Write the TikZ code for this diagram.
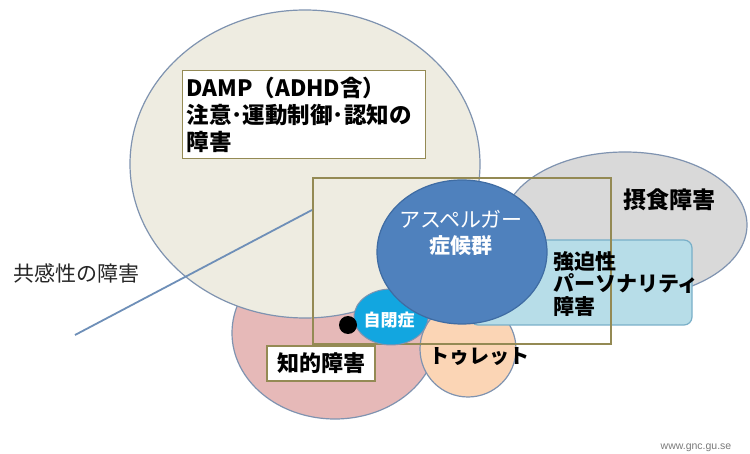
\documentclass[tikz,border=0pt]{standalone}
\usepackage{fontspec}
\setmainfont{Noto Sans CJK JP}
\newfontfamily\latinsans{Liberation Sans}
\begin{document}
\begin{tikzpicture}[x=1pt,y=-1pt,
  blob/.style={draw=#1, line width=1.2pt},
  labelbox/.style={draw=tanline, fill=white, line width=1.2pt, inner sep=4pt},
  jpbold/.style={font=\bfseries\fontsize{#1}{#1}\selectfont, text=black, inner sep=0pt},
]
\definecolor{beige}{HTML}{EEECE1}
\definecolor{blobline}{HTML}{7F93B0}
\definecolor{pinkfill}{HTML}{E6B9B8}
\definecolor{peach}{HTML}{FBD5B5}
\definecolor{greyfill}{HTML}{D9D9D9}
\definecolor{ltblue}{HTML}{B7DDE8}
\definecolor{ltblueline}{HTML}{79AFC8}
\definecolor{aspblue}{HTML}{4F81BD}
\definecolor{aspline}{HTML}{3F6CA3}
\definecolor{autblue}{HTML}{12A6E0}
\definecolor{tanline}{HTML}{948A54}
\definecolor{steel}{HTML}{6E8FB8}
\definecolor{urlgrey}{HTML}{7A7A7A}

\useasboundingbox[fill=white] (0,0) rectangle (750,454);

% background shapes
\fill[pinkfill] (335,333) ellipse [x radius=103pt, y radius=86pt];
\draw[blob=blobline] (335,333) ellipse [x radius=103pt, y radius=86pt];
\fill[beige] (305,164) ellipse [x radius=175pt, y radius=154pt];
\draw[blob=blobline] (305,164) ellipse [x radius=175pt, y radius=154pt];
\fill[greyfill] (625,225) ellipse [x radius=122pt, y radius=73pt];
\draw[blob=blobline] (625,225) ellipse [x radius=122pt, y radius=73pt];
\fill[peach] (468,349) circle [radius=48pt];
\draw[blob=blobline] (468,349) circle [radius=48pt];
\filldraw[fill=ltblue, draw=ltblueline, line width=1.2pt, rounded corners=8pt] (470,240) rectangle (692,325);

% outline rectangle
\draw[draw=tanline, line width=1.3pt] (313,178) rectangle (611,344);

% empathy line
\coordinate (lineA) at (75,335);
\coordinate (lineB) at (312,210);
\draw[steel, line width=1.8pt] (lineA) -- (lineB);

% autism and asperger
\filldraw[fill=autblue, draw=blobline, line width=1pt] (391,317) ellipse [x radius=37pt, y radius=28pt];
\filldraw[fill=aspblue, draw=aspline, line width=1.2pt] (462,252) ellipse [x radius=85pt, y radius=72pt];
\fill[black] (348,325) circle [radius=9pt];

% boxes
\node[labelbox, anchor=north west, minimum width=243pt, minimum height=88pt, text width=235pt, align=left,
      font=\bfseries\fontsize{22.5}{27}\selectfont] (damp) at (182,70)
  {DAMP（ADHD含）\\注意･運動制御･認知の\\障害};
\node[labelbox, minimum width=108pt, minimum height=35pt, inner sep=0pt, font=\bfseries\fontsize{22}{22}\selectfont] (chiteki) at (321,363.5) {知的障害};

% labels
\node[font=\fontsize{21}{21}\selectfont, text=black!85, inner sep=0pt] (kyokan) at (76,273) {共感性の障害};
\node[jpbold=23] (sesshoku) at (669,200) {摂食障害};
\node[font=\fontsize{21}{26}\selectfont, text=white, align=center, inner sep=0pt] (asp) at (461,233) {アスペルガー\\\textbf{症候群}};
\node[font=\bfseries\fontsize{21}{22.5}\selectfont, align=left, anchor=west, inner sep=0pt] (kyohaku) at (553,284) {強迫性\\パーソナリティ\\障害};
\node[font=\bfseries\fontsize{17}{17}\selectfont, text=white, inner sep=0pt] (jihei) at (389,320) {自閉症};
\node[jpbold=20] (tourette) at (479,357) {トゥレット};
\node[font=\latinsans\fontsize{10.5}{10.5}\selectfont, text=urlgrey, inner sep=0pt] (url) at (696,448) {www.gnc.gu.se};
\end{tikzpicture}
\end{document}
